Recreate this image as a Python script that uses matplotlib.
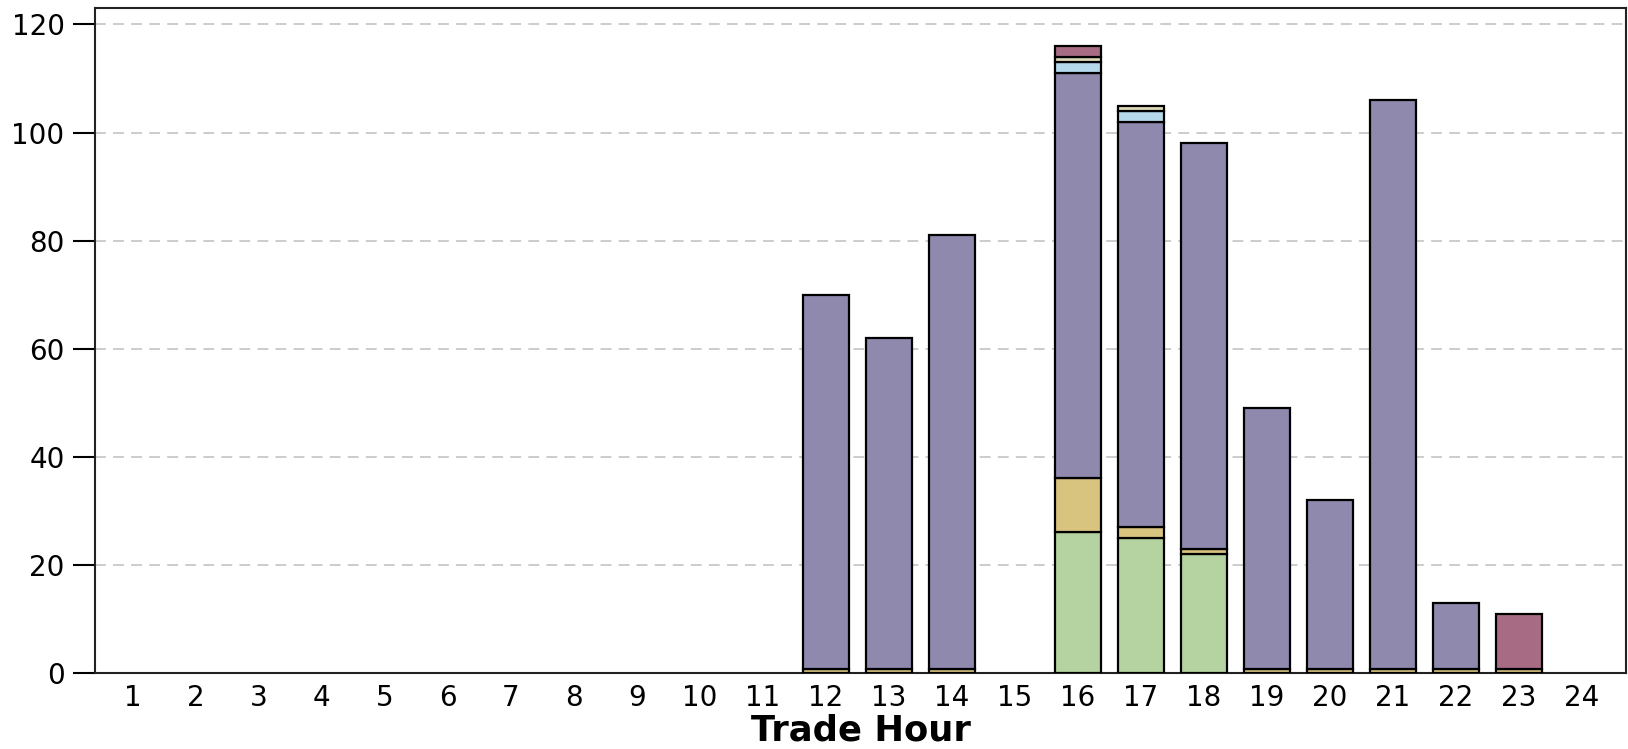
import matplotlib
matplotlib.use("Agg")
import matplotlib.pyplot as plt
import numpy as np

# Trade hours on the x axis
hours = list(range(1, 25))

# Stacked series, bottom to top (values per hour 1..24)
green  = [0]*15 + [26, 25, 22] + [0]*6
tan    = [0]*11 + [0.8, 0.8, 0.8, 0, 10, 2, 1, 0.8, 0.8, 0.8, 0.8, 0.8, 0]
purple = [0]*11 + [69.2, 61.2, 80.2, 0, 75, 75, 75, 48.2, 31.2, 105.2, 12.2, 0, 0]
blue   = [0]*15 + [2, 2, 0] + [0]*6
pale   = [0]*15 + [1, 1, 0] + [0]*6
mauve  = [0]*15 + [2, 0, 0, 0, 0, 0, 0, 10.2, 0]

series = [green, tan, purple, blue, pale, mauve]
colors = ['#b5d3a0', '#d9c47f', '#8e89ad', '#b5d8ea', '#dddbb8', '#a86b84']

plt.rcParams['font.family'] = ['DejaVu Sans']

fig = plt.figure(figsize=(16.28, 7.49), dpi=100)
ax = fig.add_axes([0.0584, 0.1015, 0.9404, 0.8875])

bottom = np.zeros(len(hours))
for vals, col in zip(series, colors):
    v = np.array(vals, dtype=float)
    mask = v > 0
    ax.bar(np.array(hours)[mask], v[mask], bottom=bottom[mask], width=0.74,
           color=col, edgecolor='black', linewidth=1.6, zorder=3)
    bottom += v

ax.set_xlim(0.4, 24.7)
ax.set_ylim(0, 123)
ax.set_yticks(range(0, 121, 20))
ax.set_xticks(hours)
ax.set_xticklabels([str(h) for h in hours])

ax.yaxis.grid(True, linestyle=(0, (6, 4)), color='#c8c8c8', linewidth=1.3, zorder=0)
ax.set_axisbelow(True)

ax.tick_params(axis='y', length=16, width=1.5, pad=6, labelsize=20)
ax.tick_params(axis='x', length=0, pad=8, labelsize=20)

for s in ax.spines.values():
    s.set_linewidth(1.5)
    s.set_color('#222222')

ax.set_xlabel('Trade Hour', fontsize=25.5, fontweight='bold', labelpad=1)

fig.savefig('out.png', dpi=100)
